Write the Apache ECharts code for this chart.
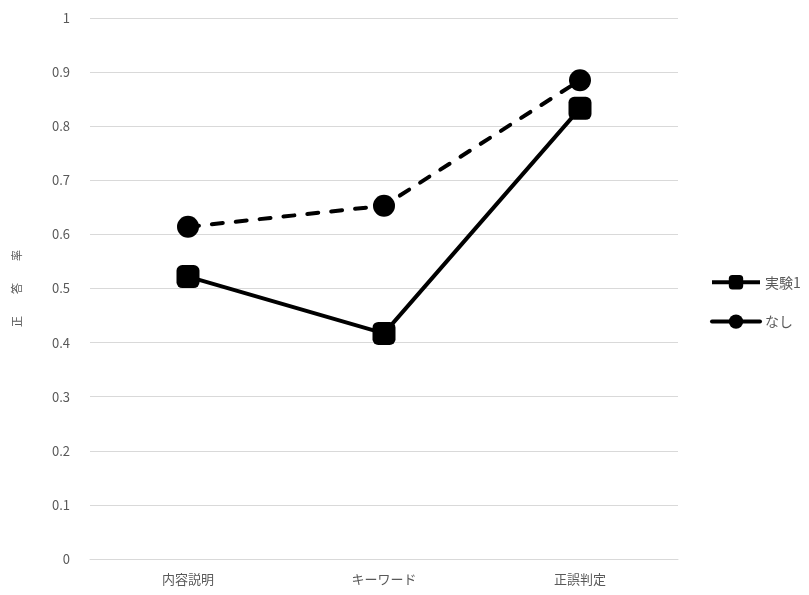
<!DOCTYPE html>
<html><head><meta charset="utf-8">
<script src="https://cdn.jsdelivr.net/npm/echarts@6/dist/echarts.min.js"></script>
<style>html,body{margin:0;padding:0;background:#fff}#c{width:809px;height:595px}</style>
</head><body><div id="c"></div>
<script>
const categories = ['内容説明', 'キーワード', '正誤判定'];
const seriesNames = ['実験1', 'なし'];
const exp1Values = [0.522, 0.417, 0.833];
const noneValues = [0.614, 0.653, 0.885];
const yTicks = [0, 0.1, 0.2, 0.3, 0.4, 0.5, 0.6, 0.7, 0.8, 0.9, 1];
const yAxisName = '正\u3000\u3000答\u3000\u3000率';

const font = '"Noto Sans CJK JP", "Noto Sans", sans-serif';
const chart = echarts.init(document.getElementById('c'), null, {renderer: 'canvas'});
chart.setOption({
  animation: false,
  textStyle: {fontFamily: font},
  grid: {left: 90, right: 131, top: 18, bottom: 36},
  legend: {
    orient: 'vertical', left: 710, top: 275, itemGap: 25, padding: 0,
    itemWidth: 48, itemHeight: 18,
    textStyle: {fontSize: 14, color: '#595959', fontFamily: font},
    data: [
      {name: seriesNames[0], lineStyle: {width: 4, type: 'solid'}},
      {name: seriesNames[1], lineStyle: {width: 4, type: 'solid'}}
    ]
  },
  xAxis: {
    type: 'category', data: categories, boundaryGap: true,
    axisLine: {show: true, lineStyle: {color: '#d9d9d9'}},
    axisTick: {show: false},
    axisLabel: {fontSize: 13, color: '#595959', margin: 14, fontFamily: font}
  },
  yAxis: {
    type: 'value', min: yTicks[0], max: yTicks[yTicks.length - 1], interval: 0.1,
    name: yAxisName, nameLocation: 'middle', nameGap: 68, nameRotate: 90,
    nameTextStyle: {fontSize: 11, color: '#595959', fontFamily: font},
    axisLine: {show: false}, axisTick: {show: false},
    axisLabel: {fontSize: 13, color: '#595959', margin: 20, fontFamily: font,
      formatter: v => String(+v.toFixed(1))},
    splitLine: {lineStyle: {color: '#d9d9d9', width: 1}}
  },
  series: [
    {
      name: seriesNames[0], type: 'line', data: exp1Values,
      symbol: 'roundRect', symbolSize: 23,
      lineStyle: {color: '#000', width: 4},
      itemStyle: {color: '#000'}
    },
    {
      name: seriesNames[1], type: 'line', data: noneValues,
      symbol: 'circle', symbolSize: 22,
      lineStyle: {color: '#000', width: 4, type: [11, 13], cap: 'round'},
      itemStyle: {color: '#000'}
    }
  ]
});
</script></body></html>
